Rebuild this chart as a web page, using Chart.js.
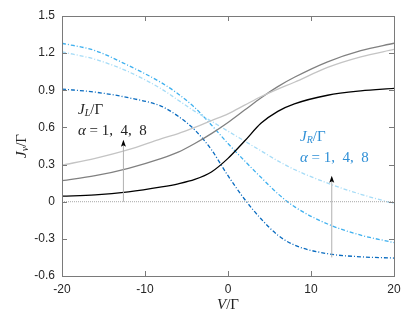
<!DOCTYPE html>
<html>
<head>
<meta charset="utf-8">
<script src="https://cdn.jsdelivr.net/npm/chart.js@4.4.1/dist/chart.umd.min.js"></script>
<style>
  html, body { margin: 0; padding: 0; background: #fff; }
  #wrap { width: 415px; height: 325px; }
</style>
</head>
<body>
<div id="wrap"><canvas id="c"></canvas></div>
<script>
// bias voltage V/Gamma
var volts = [-20, -16, -12, -8, -6, -4, -2, 0, 2, 4, 6, 8, 12, 16, 20];

// left currents J_L/Gamma
var jLblack = [0.045, 0.055, 0.08, 0.12, 0.145, 0.18, 0.24, 0.35, 0.49, 0.635, 0.73, 0.79, 0.86, 0.895, 0.915];
var jLgray  = [0.17, 0.21, 0.27, 0.35, 0.40, 0.47, 0.55, 0.64, 0.74, 0.84, 0.93, 1.005, 1.13, 1.22, 1.28];
var jLlight = [0.295, 0.35, 0.42, 0.51, 0.55, 0.60, 0.655, 0.71, 0.78, 0.85, 0.91, 0.965, 1.085, 1.17, 1.23];

// right currents J_R/Gamma
var jRdark  = [0.91, 0.885, 0.84, 0.77, 0.69, 0.58, 0.42, 0.21, 0.02, -0.14, -0.27, -0.35, -0.42, -0.445, -0.455];
var jRmid   = [1.28, 1.22, 1.10, 0.96, 0.87, 0.76, 0.62, 0.47, 0.33, 0.195, 0.065, -0.04, -0.18, -0.27, -0.33];
var jRlight = [1.21, 1.15, 1.05, 0.91, 0.82, 0.73, 0.65, 0.57, 0.49, 0.41, 0.33, 0.26, 0.15, 0.06, -0.015];

var xTicks = [-20, -10, 0, 10, 20];
var yTicks = [-0.6, -0.3, 0, 0.3, 0.6, 0.9, 1.2, 1.5];

function pts(arr) {
    return volts.map((v, i) => ({ x: v, y: arr[i] }));
}

function line(arr, color, dash) {
    return {
        data: pts(arr),
        borderColor: color,
        borderWidth: 1.3,
        borderDash: dash || [],
        pointRadius: 0,
        cubicInterpolationMode: 'monotone',
        fill: false
    };
}

var dashDot = [4, 2, 1, 2];

// draw text pieces with sub/superscripts
function mathText(ctx, parts, x, y) {
    var cx = x;
    parts.forEach(p => {
        ctx.font = p.f;
        ctx.fillText(p.t, cx, y + (p.dy || 0));
        cx += ctx.measureText(p.t).width + (p.sp || 0);
    });
}
function mathWidth(ctx, parts) {
    var w = 0;
    parts.forEach(p => { ctx.font = p.f; w += ctx.measureText(p.t).width + (p.sp || 0); });
    return w;
}

function arrow(ctx, xs, ys, xv, y0, y1) {
    var px = xs.getPixelForValue(xv);
    var p0 = ys.getPixelForValue(y0);
    var p1 = ys.getPixelForValue(y1);
    ctx.strokeStyle = '#b0b0b0';
    ctx.lineWidth = 1;
    ctx.setLineDash([]);
    ctx.beginPath();
    ctx.moveTo(px, p0);
    ctx.lineTo(px, p1 + 2);
    ctx.stroke();
    ctx.fillStyle = '#000';
    ctx.beginPath();
    ctx.moveTo(px, p1);
    ctx.lineTo(px - 2.5, p1 + 7);
    ctx.lineTo(px, p1 + 5.5);
    ctx.lineTo(px + 2.5, p1 + 7);
    ctx.closePath();
    ctx.fill();
}

var serif = '"Liberation Serif", "DejaVu Serif", serif';
var it15 = 'italic 15px ' + serif;
var it10 = 'italic 10px ' + serif;
var up15 = '15px ' + serif;

var decor = {
    id: 'decor',
    afterDatasetsDraw(chart) {
        var ctx = chart.ctx, xs = chart.scales.x, ys = chart.scales.y;
        ctx.save();
        arrow(ctx, xs, ys, -12.6, 0, 0.5);
        arrow(ctx, xs, ys, 12.5, -0.45, 0.21);

        ctx.textBaseline = 'middle';
        ctx.textAlign = 'left';
        ctx.fillStyle = '#222';
        mathText(ctx, [{ t: 'J', f: it15 }, { t: 'L', f: it10, dy: 3 }, { t: '/Γ', f: up15 }], 78, 110);
        mathText(ctx, [{ t: 'α', f: it15 }, { t: ' = 1,  4,  8', f: up15 }], 78, 131);

        ctx.fillStyle = '#2f8fd6';
        mathText(ctx, [{ t: 'J', f: it15 }, { t: 'R', f: it10, dy: 3 }, { t: '/Γ', f: up15 }], 300, 137);
        mathText(ctx, [{ t: 'α', f: it15 }, { t: ' = 1,  4,  8', f: up15 }], 300, 158);
        ctx.restore();
    },
    afterDraw(chart) {
        var ctx = chart.ctx, ca = chart.chartArea, xs = chart.scales.x, ys = chart.scales.y;
        ctx.save();
        ctx.strokeStyle = '#7a7a7a';
        ctx.lineWidth = 1;
        ctx.setLineDash([]);
        ctx.strokeRect(Math.round(ca.left) + 0.5, Math.round(ca.top) + 0.5,
            Math.round(ca.right - ca.left), Math.round(ca.bottom - ca.top));
        ctx.beginPath();
        xTicks.forEach(v => {
            var px = Math.round(xs.getPixelForValue(v)) + 0.5;
            ctx.moveTo(px, ca.bottom); ctx.lineTo(px, ca.bottom - 5);
            ctx.moveTo(px, ca.top); ctx.lineTo(px, ca.top + 5);
        });
        yTicks.forEach(v => {
            var py = Math.round(ys.getPixelForValue(v)) + 0.5;
            ctx.moveTo(ca.left, py); ctx.lineTo(ca.left + 5, py);
            ctx.moveTo(ca.right, py); ctx.lineTo(ca.right - 5, py);
        });
        ctx.stroke();

        // axis titles
        ctx.fillStyle = '#222';
        ctx.textBaseline = 'middle';
        var xt = [{ t: 'V', f: it15 }, { t: '/Γ', f: up15 }];
        var w = mathWidth(ctx, xt);
        mathText(ctx, xt, (ca.left + ca.right) / 2 - w / 2, 305);

        var yt = [{ t: 'J', f: it15 }, { t: 'v', f: it10, dy: 3 }, { t: '/Γ', f: up15 }];
        ctx.translate(22, (ca.top + ca.bottom) / 2);
        ctx.rotate(-Math.PI / 2);
        w = mathWidth(ctx, yt);
        mathText(ctx, yt, -w / 2, 0);
        ctx.restore();
    }
};

var zeroLine = {
    data: [{ x: -20, y: 0 }, { x: 20, y: 0 }],
    borderColor: '#a8a8a8',
    borderWidth: 1,
    borderDash: [1, 1],
    pointRadius: 0
};

new Chart(document.getElementById('c'), {
    type: 'line',
    data: {
        datasets: [
            zeroLine,
            line(jLlight, '#c4c4c4'),
            line(jLgray, '#808080'),
            line(jLblack, '#000000'),
            line(jRlight, '#a6dcf7', dashDot),
            line(jRmid, '#3eb0ef', dashDot),
            line(jRdark, '#0a6cc0', dashDot)
        ]
    },
    options: {
        responsive: true,
        maintainAspectRatio: false,
        animation: false,
        layout: { padding: { left: 0, right: 21, top: 16, bottom: 0 } },
        plugins: { legend: { display: false }, tooltip: { enabled: false } },
        scales: {
            x: {
                type: 'linear',
                min: -20, max: 20,
                grid: { display: false, drawTicks: false },
                border: { display: false },
                afterBuildTicks: s => { s.ticks = xTicks.map(v => ({ value: v })); },
                afterFit: s => { s.height = 49; },
                ticks: {
                    color: '#262626', padding: 6, maxRotation: 0,
                    font: { family: '"Liberation Sans", Arial, sans-serif', size: 12 }
                }
            },
            y: {
                min: -0.6, max: 1.5,
                grid: { display: false, drawTicks: false },
                border: { display: false },
                afterBuildTicks: s => { s.ticks = yTicks.map(v => ({ value: v })); },
                afterFit: s => { s.width = 62; },
                ticks: {
                    color: '#262626', padding: 7,
                    font: { family: '"Liberation Sans", Arial, sans-serif', size: 12 },
                    callback: v => String(Number(v.toFixed(2)))
                }
            }
        }
    },
    plugins: [decor]
});
</script>
</body>
</html>
